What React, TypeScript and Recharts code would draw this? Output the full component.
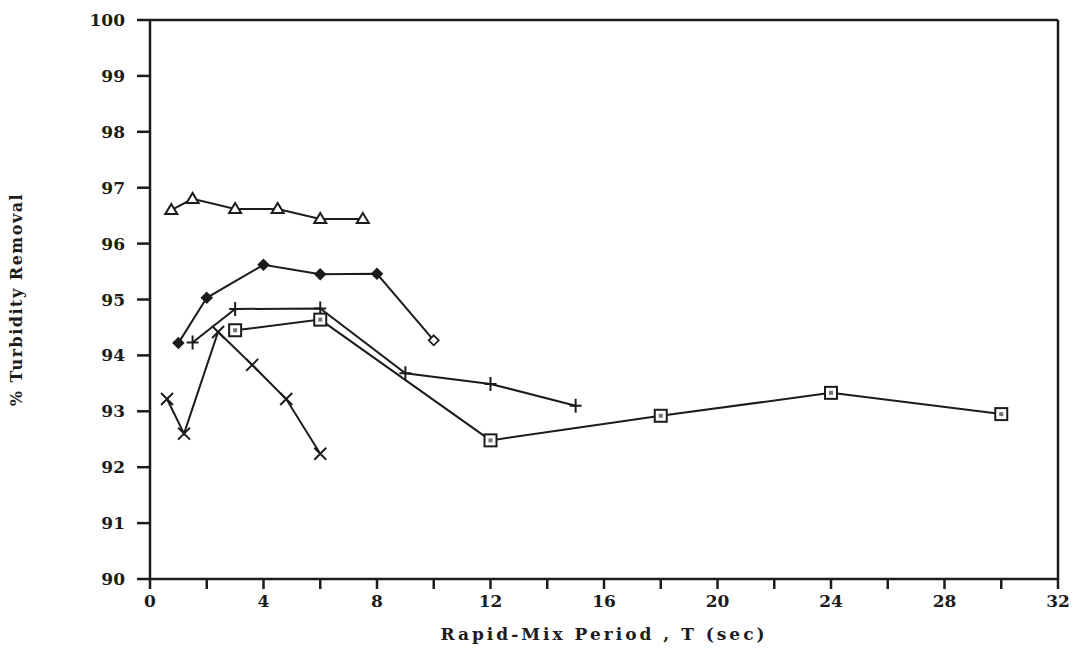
import React from "react";
import { LineChart, Line, XAxis, YAxis, ReferenceLine } from "recharts";

// rapid-mix period (sec) and % turbidity removal, one pair of arrays per run
const triangleT = [0.75, 1.5, 3, 4.5, 6, 7.5];
const triangleY = [96.6, 96.8, 96.62, 96.62, 96.44, 96.44];
const diamondT = [1, 2, 4, 6, 8, 10];
const diamondY = [94.22, 95.03, 95.62, 95.45, 95.46, 94.27];
const plusT = [1.5, 3, 6, 9, 12, 15];
const plusY = [94.23, 94.83, 94.84, 93.68, 93.49, 93.1];
const squareT = [3, 6, 12, 18, 24, 30];
const squareY = [94.45, 94.64, 92.48, 92.92, 93.33, 92.95];
const crossT = [0.6, 1.2, 2.4, 3.6, 4.8, 6];
const crossY = [93.22, 92.6, 94.42, 93.83, 93.22, 92.24];

const xTicks = [0, 2, 4, 6, 8, 10, 12, 14, 16, 18, 20, 22, 24, 26, 28, 30, 32];
const yTicks = [90, 91, 92, 93, 94, 95, 96, 97, 98, 99, 100];

const ink = "#1c1c1c";
const font = "'DejaVu Serif', serif";

const zip = (xs: number[], ys: number[]) => xs.map((t, i) => ({ t, v: ys[i] }));

function Triangle(props: any) {
  const { cx, cy } = props;
  return <path d={`M${cx},${cy - 6}L${cx + 6},${cy + 4}L${cx - 6},${cy + 4}Z`} fill="#fff" stroke={ink} strokeWidth={2} />;
}
function Diamond(props: any) {
  const { cx, cy, index } = props;
  const last = index === diamondT.length - 1;
  return <path d={`M${cx},${cy - 5}L${cx + 5},${cy}L${cx},${cy + 5}L${cx - 5},${cy}Z`} fill={last ? "#fff" : ink} stroke={ink} strokeWidth={1.8} />;
}
function Plus(props: any) {
  const { cx, cy } = props;
  return <path d={`M${cx - 6},${cy}H${cx + 6}M${cx},${cy - 7}V${cy + 7}`} stroke={ink} strokeWidth={2} fill="none" />;
}
function Square(props: any) {
  const { cx, cy } = props;
  return (
    <g>
      <rect x={cx - 6} y={cy - 6} width={12} height={12} fill="#fff" stroke={ink} strokeWidth={2} />
      <rect x={cx - 2} y={cy - 2} width={4} height={4} fill="#777" />
    </g>
  );
}
function Cross(props: any) {
  const { cx, cy } = props;
  return <path d={`M${cx - 6},${cy - 6}L${cx + 6},${cy + 6}M${cx + 6},${cy - 6}L${cx - 6},${cy + 6}`} stroke={ink} strokeWidth={2} fill="none" />;
}

const tickStyle = { fill: ink, fontFamily: font, fontWeight: 700, fontSize: 17 };

export default function App() {
  return (
    <div style={{ position: "absolute", left: 0, top: 0, width: 1082, height: 657, background: "#fff" }}>
      <LineChart width={1082} height={657} margin={{ top: 20, right: 24, bottom: 0, left: 0 }}>
        <XAxis
          type="number"
          dataKey="t"
          domain={[0, 32]}
          ticks={xTicks}
          interval={0}
          height={78}
          tickFormatter={(v: number) => (v % 4 === 0 ? String(v) : "")}
          tick={tickStyle}
          tickSize={10}
          tickMargin={6}
          stroke={ink}
          strokeWidth={2.5}
          allowDataOverflow
          label={{ value: "Rapid-Mix Period , T (sec)", position: "insideBottom", offset: 17, style: { ...tickStyle, fontSize: 17, letterSpacing: 3 } }}
        />
        <YAxis
          type="number"
          domain={[90, 100]}
          ticks={yTicks}
          interval={0}
          width={150}
          tick={tickStyle}
          tickSize={13}
          tickMargin={12}
          stroke={ink}
          strokeWidth={2.5}
          label={{ value: "% Turbidity Removal", angle: -90, position: "insideLeft", offset: 16, style: { ...tickStyle, fontSize: 16, letterSpacing: 1.5, textAnchor: "middle" } }}
        />
        <ReferenceLine y={100} stroke={ink} strokeWidth={2.5} />
        <ReferenceLine x={32} stroke={ink} strokeWidth={2.5} />
        <Line data={zip(triangleT, triangleY)} dataKey="v" stroke={ink} strokeWidth={2} dot={<Triangle />} isAnimationActive={false} />
        <Line data={zip(diamondT, diamondY)} dataKey="v" stroke={ink} strokeWidth={2} dot={<Diamond />} isAnimationActive={false} />
        <Line data={zip(plusT, plusY)} dataKey="v" stroke={ink} strokeWidth={2} dot={<Plus />} isAnimationActive={false} />
        <Line data={zip(squareT, squareY)} dataKey="v" stroke={ink} strokeWidth={2} dot={<Square />} isAnimationActive={false} />
        <Line data={zip(crossT, crossY)} dataKey="v" stroke={ink} strokeWidth={2} dot={<Cross />} isAnimationActive={false} />
      </LineChart>
    </div>
  );
}
